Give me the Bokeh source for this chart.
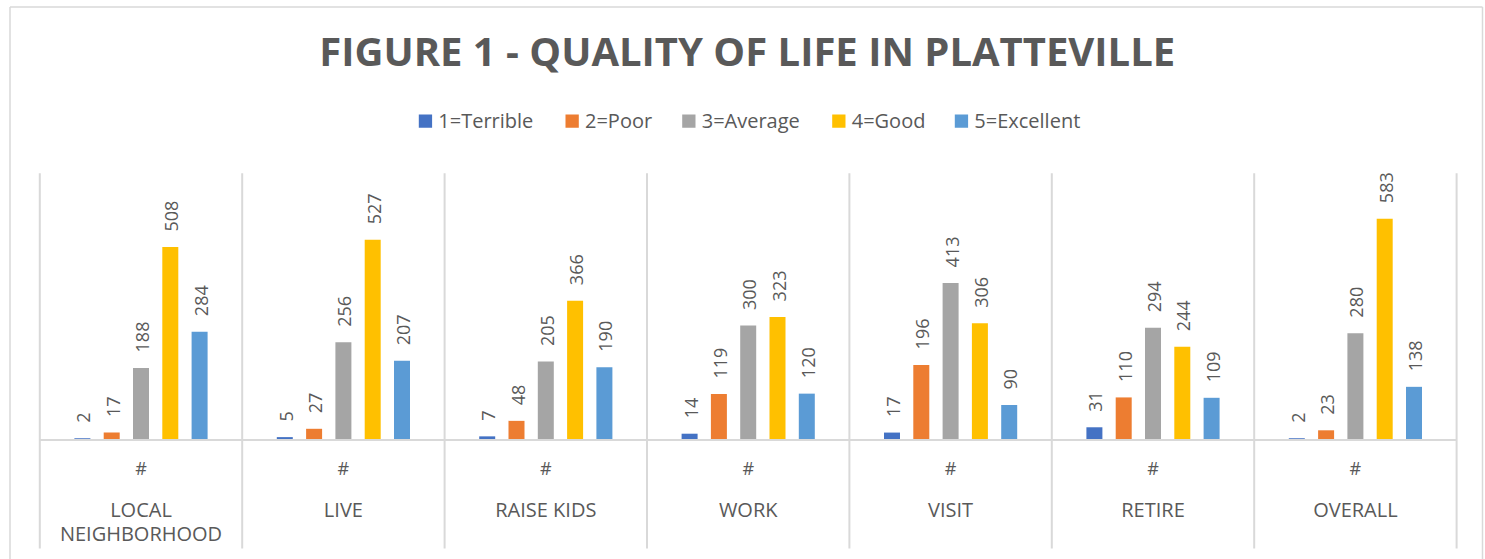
import numpy as np
from bokeh.plotting import figure
from bokeh.models import Range1d
from bokeh.core.properties import value
from bokeh.embed import file_html
from bokeh.resources import INLINE

# ---------------- data ----------------
title_text = "FIGURE 1 - QUALITY OF LIFE IN PLATTEVILLE"
categories = ["LOCAL NEIGHBORHOOD", "LIVE", "RAISE KIDS", "WORK", "VISIT", "RETIRE", "OVERALL"]
sub_label = "#"
series_names = ["1=Terrible", "2=Poor", "3=Average", "4=Good", "5=Excellent"]
terrible = [2, 5, 7, 14, 17, 31, 2]
poor = [17, 27, 48, 119, 196, 110, 23]
average = [188, 256, 205, 300, 413, 294, 280]
good = [508, 527, 366, 323, 306, 244, 583]
excellent = [284, 207, 190, 120, 90, 109, 138]
colors = ["#4472C4", "#ED7D31", "#A5A5A5", "#FFC000", "#5B9BD5"]
series = [terrible, poor, average, good, excellent]

# ---------------- layout (canvas pixels) ----------------
W, H = 1485, 559
GROUP_LEFT = 39.3      # left edge of first category group
GROUP_W = 202.4        # width of one category group
BASE_Y = 438.5         # pixel row of the value 0 baseline
PPU = 0.378            # pixels per count
BAR_STEP = 29.3        # px between bar centres
BAR_W = 16.0           # bar width in px
TEXT = "#595959"
GRID = "#D9D9D9"
FONT = value("Open Sans")


def dx(px):
    return (px - GROUP_LEFT) / GROUP_W


def dy(py):
    return (BASE_Y - py) / PPU


p = figure(width=W, height=H, output_backend="svg", toolbar_location=None, tools="",
           x_range=Range1d(dx(0), dx(W)), y_range=Range1d(dy(H), dy(0)),
           x_axis_location=None, y_axis_location=None, min_border=0)
p.title.visible = False
p.outline_line_color = None
p.grid.grid_line_color = None
p.background_fill_color = "white"
p.border_fill_color = "white"

n = len(categories)
centers = np.arange(n) + 0.5

# outer chart border (left, top, right)
p.segment(x0=[dx(9.5), dx(9.5), dx(1482)], y0=[dy(H), dy(6.5), dy(6.5)],
          x1=[dx(9.5), dx(1482), dx(1482)], y1=[dy(6.5), dy(6.5), dy(H)],
          line_color=GRID, line_width=1.5)

# group separators
bounds = np.arange(n + 1)
p.segment(x0=bounds, y0=[dy(172.7)] * (n + 1), x1=bounds, y1=[dy(548)] * (n + 1),
          line_color=GRID, line_width=2)

# bars + value labels
for k, (vals, col) in enumerate(zip(series, colors)):
    xs = centers + (k - 2) * BAR_STEP / GROUP_W
    p.vbar(x=xs, width=BAR_W / GROUP_W, top=vals, bottom=0, fill_color=col, line_color=None)
    p.text(x=xs, y=vals, text=[str(v) for v in vals], angle=np.pi / 2,
           text_align="left", text_baseline="middle", x_offset=1.5, y_offset=-15.5,
           text_font=FONT, text_font_size="18px", text_color=TEXT)

# category axis line
p.segment(x0=[0], y0=[dy(BASE_Y + 1)], x1=[n], y1=[dy(BASE_Y + 1)], line_color=GRID, line_width=2)

# "#" sub labels
p.text(x=centers, y=[dy(474 - 6.7)] * n, text=[sub_label] * n, text_align="center",
       text_baseline="alphabetic", text_font=FONT, text_font_size="18px", text_color=TEXT)

# category labels (long one wrapped onto two lines)
line1, line2 = [], []
for c in categories:
    parts = c.split(" ", 1) if len(c) > 12 else [c, ""]
    line1.append(parts[0])
    line2.append(parts[1])
p.text(x=centers, y=[dy(516.7 - 7.4)] * n, text=line1, text_align="center",
       text_baseline="alphabetic", text_font=FONT, text_font_size="20px", text_color=TEXT)
p.text(x=centers, y=[dy(540.7 - 7.4)] * n, text=line2, text_align="center",
       text_baseline="alphabetic", text_font=FONT, text_font_size="20px", text_color=TEXT)

# title
p.text(x=[dx(746.7)], y=[dy(65 - 14.8)], text=[title_text], text_align="center",
       text_baseline="alphabetic", text_font=FONT, text_font_size="40px",
       text_font_style="bold", text_color=TEXT)

# legend (manual, horizontal)
leg_left_px = [418.3, 565.0, 681.7, 831.7, 954.3]
leg_y = 120.7
sq = 13.3
p.rect(x=[dx(v + sq / 2) for v in leg_left_px], y=[dy(leg_y)] * 5, width=sq, height=sq,
       width_units="screen", height_units="screen", fill_color=colors, line_color=None)
p.text(x=[dx(v + 19.5) for v in leg_left_px], y=[dy(leg_y + 6.3 - 7.2)] * 5, text=series_names,
       text_align="left", text_baseline="alphabetic", text_font=FONT,
       text_font_size="20px", text_color=TEXT)

open("out.html", "w").write(file_html(p, INLINE))
